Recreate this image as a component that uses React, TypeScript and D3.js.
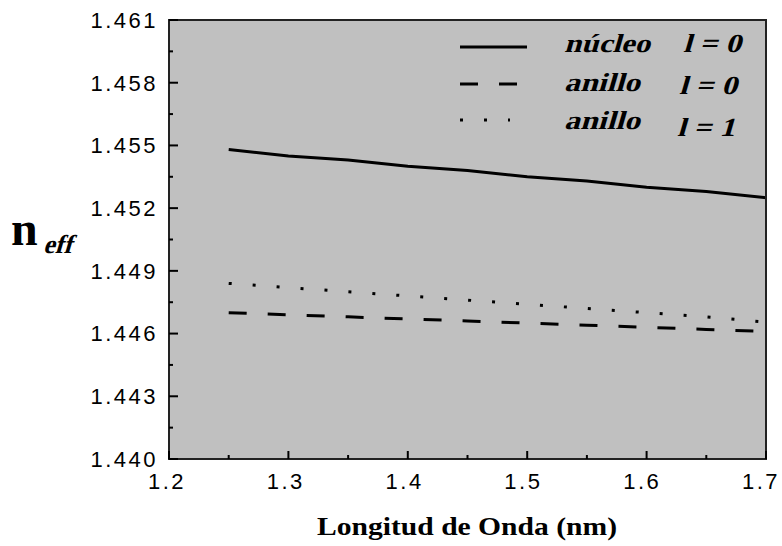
import React from "react";
import * as d3 from "d3";

// Wavelength samples (µm) and effective indices for each mode
const wavelengths = [1.25, 1.3, 1.35, 1.4, 1.45, 1.5, 1.55, 1.6, 1.65, 1.7];
const nucleoL0 = [1.4548, 1.4545, 1.4543, 1.454, 1.4538, 1.4535, 1.4533, 1.453, 1.4528, 1.4525];
const anilloL0 = [1.447, 1.4469, 1.4468, 1.4467, 1.4466, 1.4465, 1.4464, 1.4463, 1.4462, 1.4461];
const anilloL1 = [1.4484, 1.4482, 1.448, 1.4478, 1.4476, 1.4474, 1.4472, 1.447, 1.4468, 1.44655];

const xTicks = [1.2, 1.3, 1.4, 1.5, 1.6, 1.7];
const yTicks = [1.44, 1.443, 1.446, 1.449, 1.452, 1.455, 1.458, 1.461];

const seriesNames = ["núcleo", "anillo", "anillo"];
const seriesOrders = ["l = 0", "l = 0", "l = 1"];

const W = 782;
const H = 546;
const left = 169;
const right = 766;
const top = 20;
const bottom = 459;

const serif = "'Liberation Serif', 'Times New Roman', serif";

// Bold serif text slanted by a skew transform
function Slanted(props: { x: number; y: number; size: number; len?: number; children: React.ReactNode }) {
  return (
    <g transform={`translate(${props.x},${props.y}) skewX(-16)`}>
      <text
        x={0}
        y={0}
        fontFamily={serif}
        fontWeight="bold"
        fontSize={props.size}
        textLength={props.len}
        lengthAdjust={props.len ? "spacingAndGlyphs" : undefined}
        fill="#000"
      >
        {props.children}
      </text>
    </g>
  );
}

export default function App() {
  const x = d3.scaleLinear().domain([1.2, 1.7]).range([left, right]);
  const y = d3.scaleLinear().domain([1.44, 1.461]).range([bottom, top]);

  const line = d3
    .line<[number, number]>()
    .x((d) => x(d[0]))
    .y((d) => y(d[1]));

  const pts = (vals: number[]) => wavelengths.map((w, i) => [w, vals[i]] as [number, number]);

  const xMinor = d3.range(0, 5).map((i) => 1.25 + i * 0.1);
  const yMinor = d3.range(0, 7).map((i) => 1.4415 + i * 0.003);

  const tickFont = "'Liberation Sans', Arial, sans-serif";

  const styles = [
    { dash: undefined as string | undefined, width: 3 },
    { dash: "18,21", width: 3 },
    { dash: "3,21", width: 3 },
  ];
  const allSeries = [nucleoL0, anilloL0, anilloL1];

  const legendY = [47, 84, 120];
  const nameBase = [52, 91, 129];
  const orderBase = [52, 94, 136];
  const orderX = [680, 676, 674];
  const nameLen = [86, 76, 76];
  const legendEnd = [527, 517, 510];

  return (
    <svg width={W} height={H} style={{ position: "absolute", left: 0, top: 0, background: "#fff" }}>
      <rect x={left} y={top} width={right - left} height={bottom - top} fill="#c0c0c0" />

      {allSeries.map((s, i) => (
        <path
          key={i}
          d={line(pts(s)) || ""}
          fill="none"
          stroke="#000"
          strokeWidth={styles[i].width}
          strokeDasharray={styles[i].dash}
        />
      ))}

      {/* frame */}
      <rect x={left} y={top} width={right - left} height={bottom - top} fill="none" stroke="#222" strokeWidth={2} />

      {/* y ticks */}
      {yTicks.map((t) => (
        <g key={t}>
          <line x1={left} x2={left + 9} y1={y(t)} y2={y(t)} stroke="#000" strokeWidth={2} />
          <text
            x={158}
            y={y(t)}
            dy="0.36em"
            textAnchor="end"
            fontFamily={tickFont}
            fontSize={22}
            letterSpacing={2.5}
            fill="#000"
          >
            {d3.format(".3f")(t)}
          </text>
        </g>
      ))}
      {yMinor.map((t) => (
        <line key={t} x1={left} x2={left + 4} y1={y(t)} y2={y(t)} stroke="#000" strokeWidth={2} />
      ))}

      {/* x ticks */}
      {xTicks.map((t) => (
        <g key={t}>
          <line x1={x(t)} x2={x(t)} y1={bottom} y2={bottom - 8} stroke="#000" strokeWidth={2} />
          <text
            x={x(t) - 2 - (t - 1.2) * 6}
            y={489}
            textAnchor="middle"
            fontFamily={tickFont}
            fontSize={22}
            letterSpacing={2.5}
            fill="#000"
          >
            {d3.format(".1f")(t)}
          </text>
        </g>
      ))}
      {xMinor.map((t) => (
        <line key={t} x1={x(t)} x2={x(t)} y1={bottom} y2={bottom - 4} stroke="#000" strokeWidth={2} />
      ))}

      {/* legend */}
      {seriesNames.map((name, i) => (
        <g key={i}>
          <line
            x1={460}
            x2={legendEnd[i]}
            y1={legendY[i]}
            y2={legendY[i]}
            stroke="#000"
            strokeWidth={3}
            strokeDasharray={styles[i].dash}
          />
          <Slanted x={564} y={nameBase[i]} size={26} len={nameLen[i]}>
            {name}
          </Slanted>
          <Slanted x={orderX[i] + 3} y={orderBase[i]} size={26} len={58}>
            {seriesOrders[i]}
          </Slanted>
        </g>
      ))}

      {/* axis titles */}
      <text
        x={317}
        y={535}
        fontFamily={serif}
        fontWeight="bold"
        fontSize={25}
        textLength={300}
        lengthAdjust="spacingAndGlyphs"
        fill="#000"
      >
        Longitud de Onda (nm)
      </text>
      <text x={11} y={245} fontFamily={serif} fontWeight="bold" fontSize={48} fill="#000">
        n
      </text>
      <Slanted x={43} y={253} size={26}>
        eff
      </Slanted>
    </svg>
  );
}
